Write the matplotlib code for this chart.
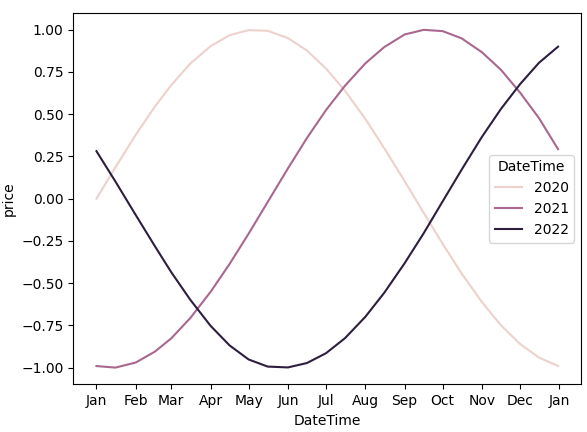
import matplotlib
matplotlib.use("Agg")
import matplotlib.pyplot as plt
import matplotlib.dates as mdates
import seaborn as sns
import pandas as pd
import numpy as np

days = [0,15,31,46,59,74,90,105,120,135,151,166,181,196,212,227,243,258,273,288,304,319,334,349,364]
p2020 = [0,0.186,0.378,0.544,0.672,0.799,0.902,0.967,0.997,0.993,0.950,0.876,0.770,0.638,0.472,0.298,0.104,-0.083,-0.267,-0.443,-0.612,-0.749,-0.859,-0.940,-0.989]
p2021 = [-0.990,-0.999,-0.969,-0.905,-0.826,-0.706,-0.551,-0.386,-0.207,-0.020,0.179,0.359,0.524,0.668,0.800,0.897,0.971,0.9985,0.991,0.948,0.866,0.762,0.628,0.476,0.293]
p2022 = [0.281,0.101,-0.097,-0.280,-0.435,-0.598,-0.752,-0.868,-0.951,-0.993,-0.998,-0.972,-0.914,-0.825,-0.699,-0.556,-0.382,-0.205,-0.016,0.172,0.366,0.531,0.677,0.804,0.899]
years = [2020, 2021, 2022]

base = pd.Timestamp("2001-01-01")
rows = []
for y, vals in zip(years, [p2020, p2021, p2022]):
    for d, v in zip(days, vals):
        rows.append({"x": base + pd.Timedelta(days=d), "price": v, "DateTime": y})
df = pd.DataFrame(rows)

fig, ax = plt.subplots(figsize=(5.87, 4.32), dpi=100)
sns.lineplot(data=df, x="x", y="price", hue="DateTime", ax=ax)
ax.xaxis.set_major_locator(mdates.MonthLocator())
ax.xaxis.set_major_formatter(mdates.DateFormatter("%b"))
ax.set_xlabel("DateTime")
ax.set_ylabel("price")
ax.legend(title="DateTime", loc="center right")
fig.subplots_adjust(left=0.125, right=0.99, top=0.97, bottom=0.11)
fig.savefig("out.png", dpi=100)
